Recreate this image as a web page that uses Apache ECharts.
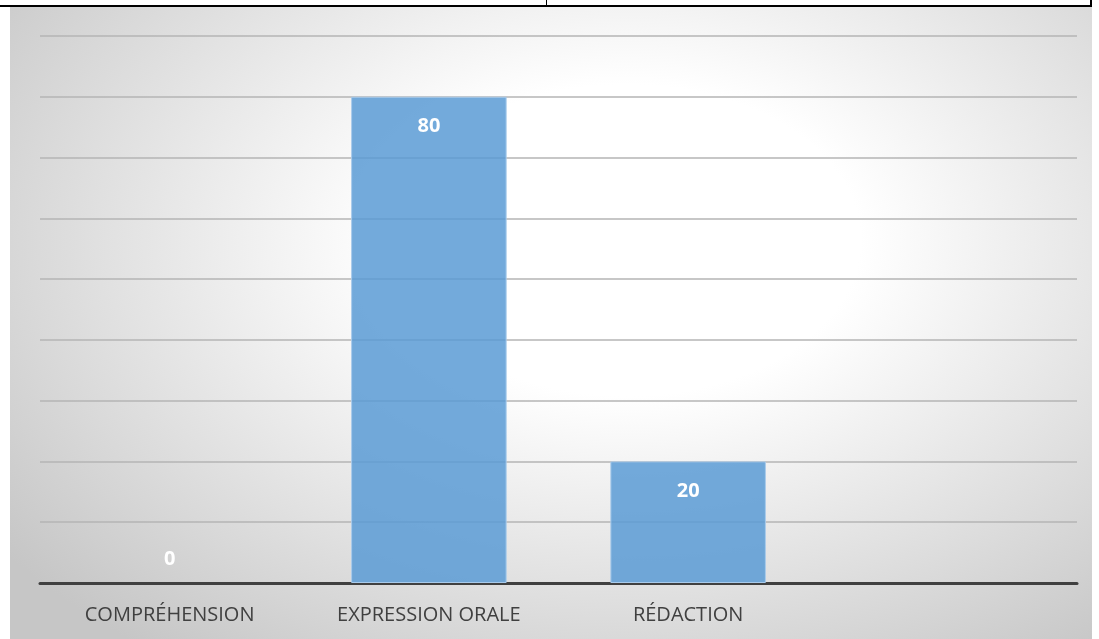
<!DOCTYPE html>
<html>
<head>
<meta charset="utf-8">
<script src="https://cdn.jsdelivr.net/npm/echarts@6/dist/echarts.min.js"></script>
<style>
html,body{margin:0;padding:0;background:#fff;width:1099px;height:639px;overflow:hidden;position:relative;}
#bg{position:absolute;left:10px;top:6px;width:1082px;height:633px;
background:radial-gradient(ellipse 72% 82% at 57% 37%, #ffffff 0%, #ffffff 30%, #c6c6c6 100%);}
#chart{position:absolute;left:0;top:0;width:1099px;height:639px;}
.ln{position:absolute;background:#000;}
</style>
</head>
<body>
<div id="bg"></div>
<div class="ln" style="left:0;top:5px;width:1092px;height:2px;"></div>
<div class="ln" style="left:546px;top:0;width:1px;height:6px;"></div>
<div class="ln" style="left:1090px;top:0;width:2px;height:6px;"></div>
<div id="chart"></div>
<script>
const categories = ['COMPRÉHENSION', 'EXPRESSION ORALE', 'RÉDACTION', ''];
const values = [0, 80, 20, null];
const yMin = 0, yMax = 90, yInterval = 10;

const chart = echarts.init(document.getElementById('chart'), null, {renderer: 'canvas'});
const data = values.map(v => {
  if (v === 0) {
    return {value: v, itemStyle: {borderWidth: 0}, label: {position: 'top', distance: 14}};
  }
  return v;
});
chart.setOption({
  backgroundColor: 'transparent',
  animation: false,
  grid: {left: 40, right: 22, top: 36, bottom: 56, containLabel: false},
  xAxis: {
    type: 'category',
    data: categories,
    axisTick: {show: false},
    axisLine: {show: true, lineStyle: {color: '#404040', width: 3}},
    axisLabel: {color: '#404040', fontFamily: 'Open Sans', fontSize: 20, margin: 22}
  },
  yAxis: {
    type: 'value',
    min: yMin, max: yMax, interval: yInterval,
    axisLabel: {show: false},
    axisLine: {show: false},
    axisTick: {show: false},
    splitLine: {lineStyle: {color: '#b4b4b4', width: 1.5}}
  },
  series: [{
    type: 'bar',
    data: data,
    barCategoryGap: '40%',
    itemStyle: {color: 'rgba(91,155,213,0.85)', borderColor: '#a9cbeb', borderWidth: 1},
    label: {
      show: true, position: 'insideTop', distance: 20,
      color: '#ffffff', fontFamily: 'Open Sans', fontWeight: 'bold', fontSize: 20
    }
  }]
});
</script>
</body>
</html>
